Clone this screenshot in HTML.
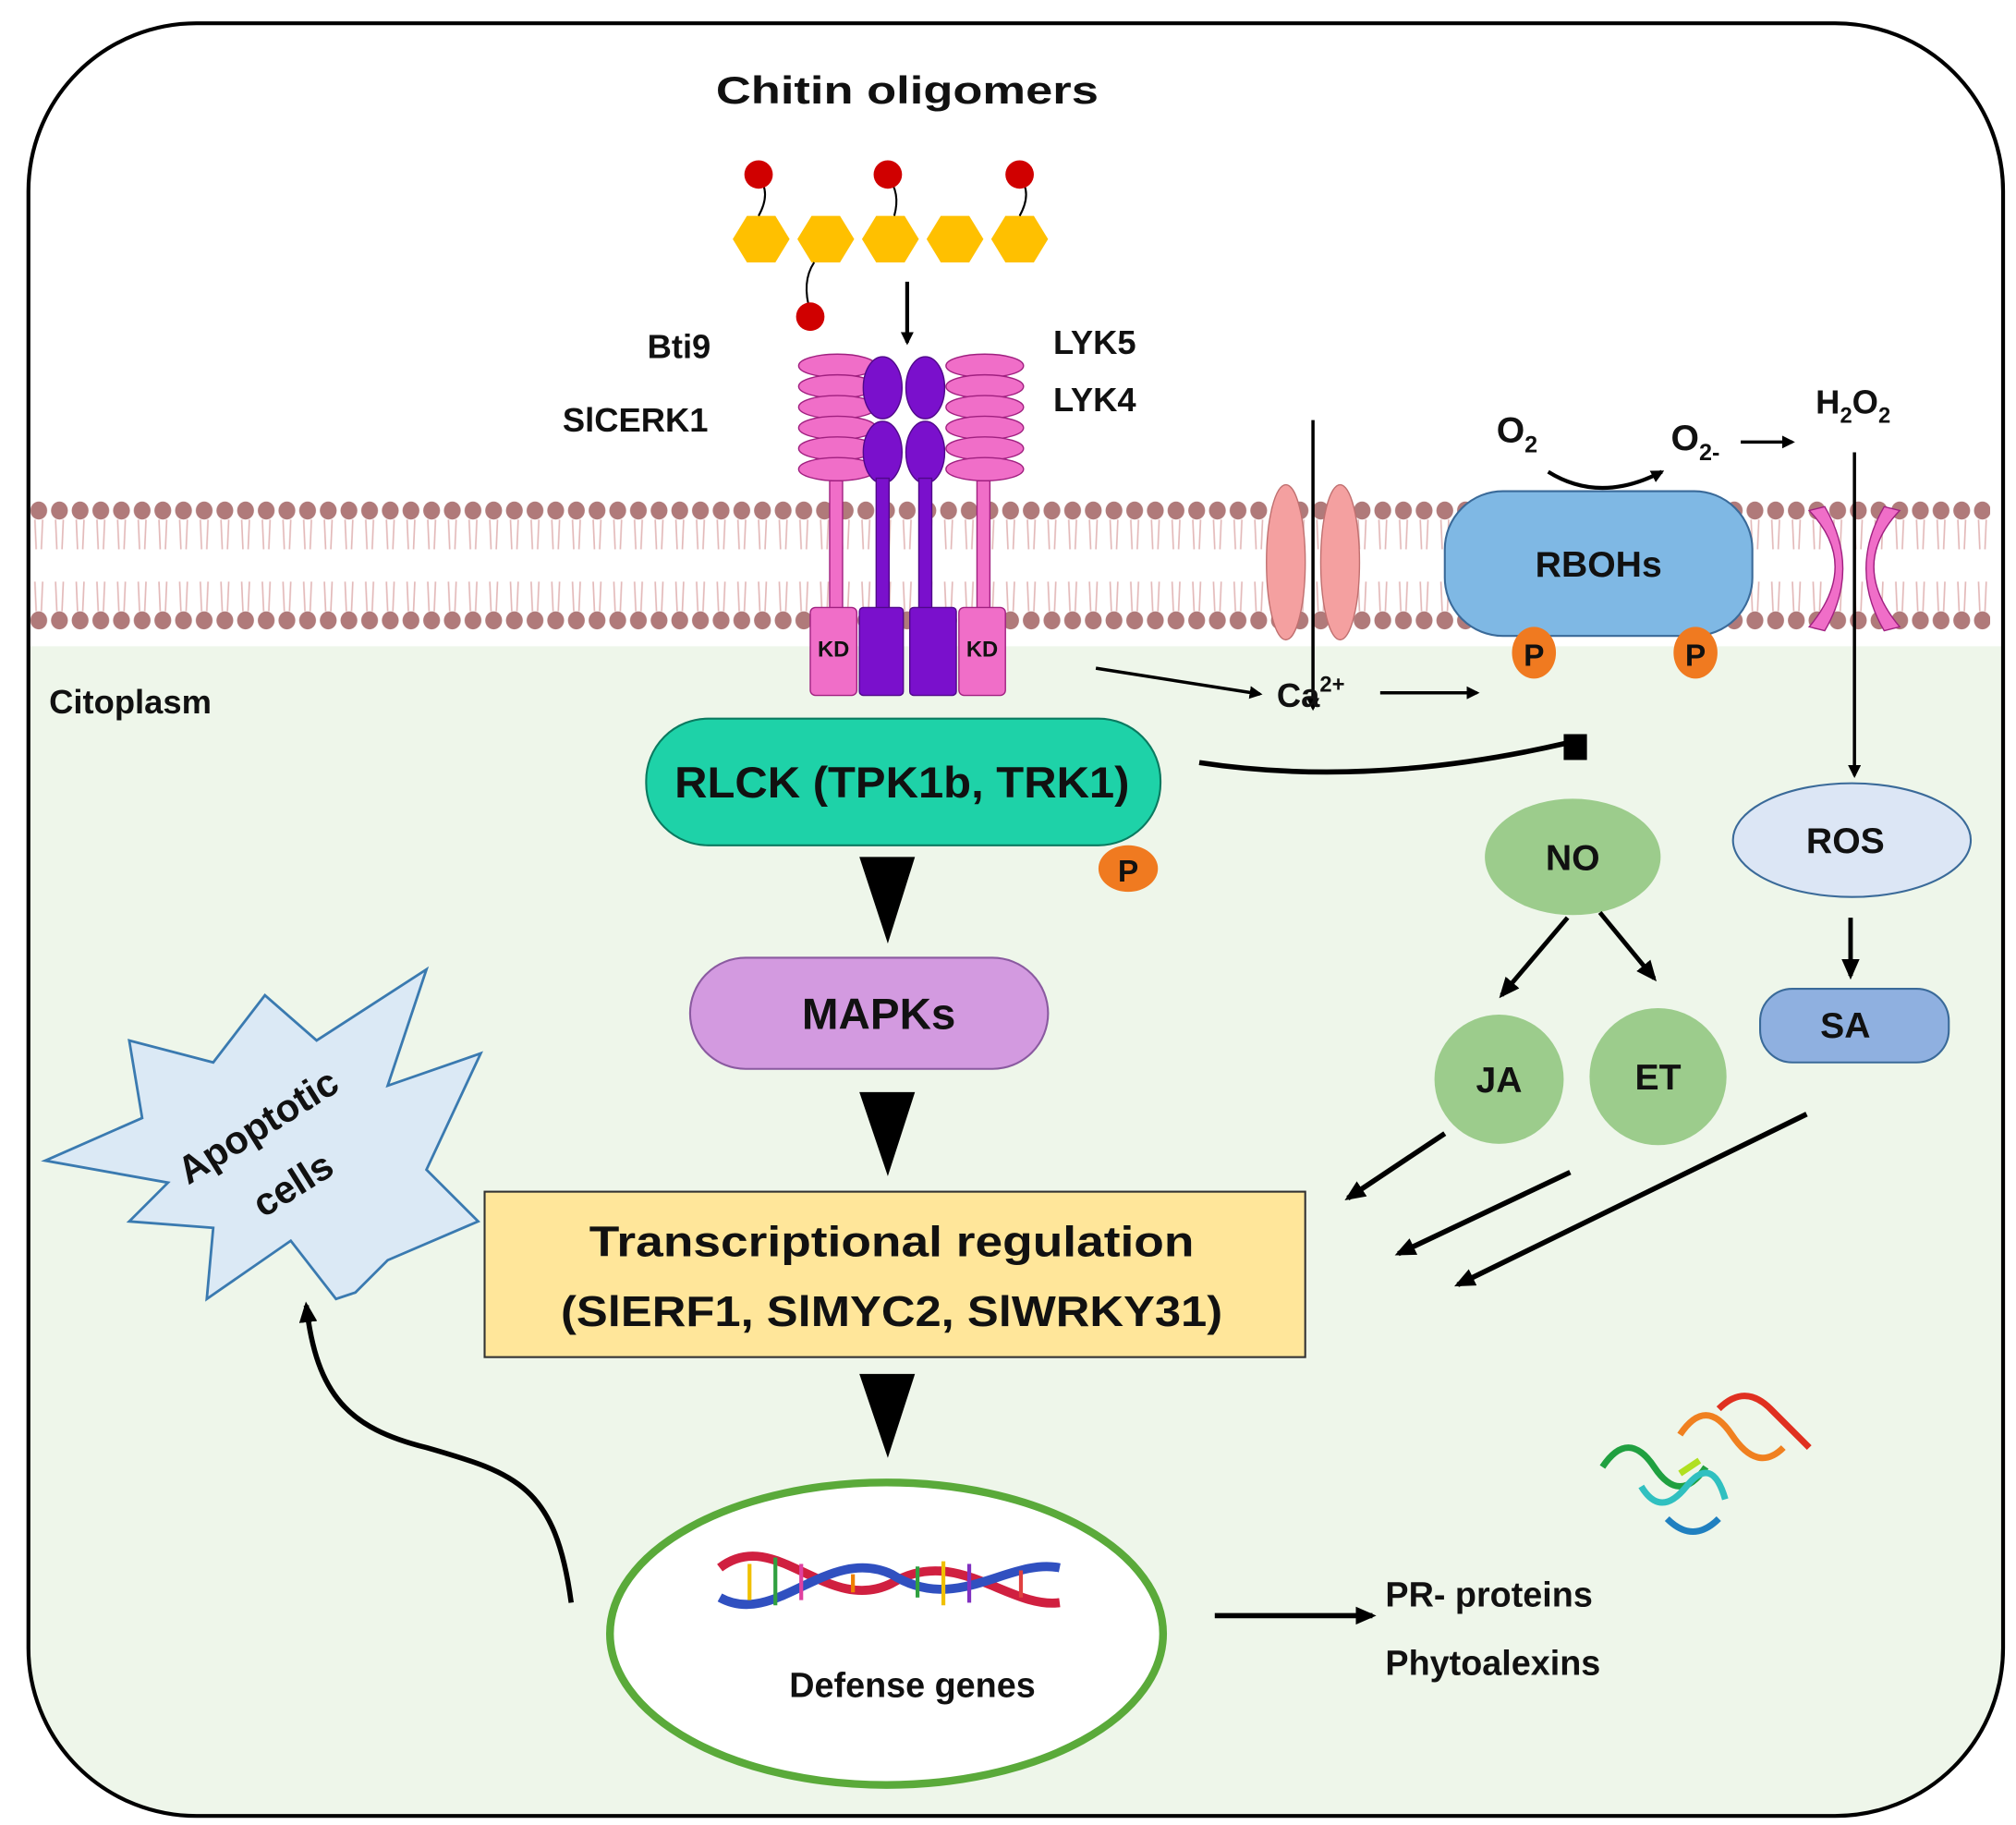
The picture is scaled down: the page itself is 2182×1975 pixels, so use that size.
<!DOCTYPE html>
<html><head><meta charset="utf-8"><style>
html,body{margin:0;padding:0;background:#fff;}
svg{display:block;}
text{font-family:"Liberation Sans","DejaVu Sans",sans-serif;font-weight:bold;fill:#111;}
</style></head><body>
<svg width="2182" height="1975" viewBox="0 0 1560 1412" xmlns="http://www.w3.org/2000/svg">
<defs>
<marker id="ah" markerWidth="10" markerHeight="10" refX="8" refY="5" orient="auto" markerUnits="userSpaceOnUse"><path d="M0,0 L10,5 L0,10 z" fill="#000"/></marker>
<marker id="ahs" markerWidth="16" markerHeight="14" refX="13" refY="7" orient="auto" markerUnits="userSpaceOnUse"><path d="M0,0 L16,7 L0,14 z" fill="#000"/></marker>
<pattern id="bead" x="22" y="0" width="16" height="1412" patternUnits="userSpaceOnUse">
<ellipse cx="8" cy="395" rx="6.5" ry="7" fill="#b07a7a"/>
<path d="M5,402 L6,425 M11,402 L10,425 M5,450 L6,473 M11,450 L10,473" stroke="#e3b9b9" stroke-width="1.2" fill="none"/>
<ellipse cx="8" cy="480" rx="6.5" ry="7" fill="#b07a7a"/>
</pattern>
<clipPath id="cell"><rect x="22" y="18" width="1528" height="1387" rx="130"/></clipPath>
</defs>
<g clip-path="url(#cell)">
<rect x="0" y="0" width="1560" height="1412" fill="#fff"/>
<rect x="0" y="500" width="1560" height="912" fill="#eef6ea"/>
<rect x="22" y="380" width="1518" height="110" fill="url(#bead)"/>
</g>
<rect x="22" y="18" width="1528" height="1387" rx="130" fill="none" stroke="#000" stroke-width="3"/>

<text x="702" y="80" font-size="30" text-anchor="middle" textLength="296" lengthAdjust="spacingAndGlyphs">Chitin oligomers</text>
<g fill="#ffc000">
<polygon points="567,185 578,167 600,167 611,185 600,203 578,203"/>
<polygon points="617,185 628,167 650,167 661,185 650,203 628,203"/>
<polygon points="667,185 678,167 700,167 711,185 700,203 678,203"/>
<polygon points="717,185 728,167 750,167 761,185 750,203 728,203"/>
<polygon points="767,185 778,167 800,167 811,185 800,203 778,203"/>
</g>
<g fill="none" stroke="#000" stroke-width="1.5">
<path d="M587,137 q10,12 0,30"/><path d="M687,137 q10,12 5,30"/><path d="M789,137 q10,12 0,30"/><path d="M630,203 q-10,15 -3,38"/>
</g>
<g fill="#d00000"><circle cx="587" cy="135" r="11"/><circle cx="687" cy="135" r="11"/><circle cx="789" cy="135" r="11"/><circle cx="627" cy="245" r="11"/></g>
<line x1="702" y1="218" x2="702" y2="265" stroke="#000" stroke-width="3" marker-end="url(#ah)"/>

<text x="550" y="277" font-size="26" text-anchor="end">Bti9</text>
<text x="548" y="334" font-size="26" text-anchor="end">SlCERK1</text>
<text x="815" y="274" font-size="26">LYK5</text>
<text x="815" y="318" font-size="26">LYK4</text>

<g fill="#f06ec8" stroke="#a02080" stroke-width="1">
<ellipse cx="648" cy="283" rx="30" ry="9"/><ellipse cx="648" cy="299" rx="30" ry="9"/><ellipse cx="648" cy="315" rx="30" ry="9"/><ellipse cx="648" cy="331" rx="30" ry="9"/><ellipse cx="648" cy="347" rx="30" ry="9"/><ellipse cx="648" cy="363" rx="30" ry="9"/>
<ellipse cx="762" cy="283" rx="30" ry="9"/><ellipse cx="762" cy="299" rx="30" ry="9"/><ellipse cx="762" cy="315" rx="30" ry="9"/><ellipse cx="762" cy="331" rx="30" ry="9"/><ellipse cx="762" cy="347" rx="30" ry="9"/><ellipse cx="762" cy="363" rx="30" ry="9"/>
<rect x="642" y="372" width="10" height="100"/><rect x="756" y="372" width="10" height="100"/>
<rect x="627" y="470" width="36" height="68" rx="4"/><rect x="742" y="470" width="36" height="68" rx="4"/>
</g>
<g fill="#7a10cc" stroke="#50088a" stroke-width="1">
<ellipse cx="683" cy="300" rx="15" ry="24"/><ellipse cx="716" cy="300" rx="15" ry="24"/>
<ellipse cx="683" cy="350" rx="15" ry="24"/><ellipse cx="716" cy="350" rx="15" ry="24"/>
<rect x="678" y="370" width="10" height="105"/><rect x="711" y="370" width="10" height="105"/>
<rect x="665" y="470" width="34" height="68" rx="3"/><rect x="704" y="470" width="36" height="68" rx="3"/>
</g>
<text x="645" y="508" font-size="17" font-weight="normal" text-anchor="middle">KD</text>
<text x="760" y="508" font-size="17" font-weight="normal" text-anchor="middle">KD</text>

<ellipse cx="995" cy="435" rx="15" ry="60" fill="#f4a0a0" stroke="#c07070"/>
<ellipse cx="1037" cy="435" rx="15" ry="60" fill="#f4a0a0" stroke="#c07070"/>
<line x1="1016" y1="325" x2="1016" y2="548" stroke="#000" stroke-width="2.5" marker-end="url(#ah)"/>

<rect x="1118" y="380" width="238" height="112" rx="45" fill="#7fb8e4" stroke="#3a6a99" stroke-width="1.5"/>
<text x="1237" y="446" font-size="28" text-anchor="middle">RBOHs</text>
<ellipse cx="1187" cy="505" rx="17" ry="20" fill="#f07a20"/><text x="1187" y="515" font-size="24" font-weight="normal" text-anchor="middle">P</text>
<ellipse cx="1312" cy="505" rx="17" ry="20" fill="#f07a20"/><text x="1312" y="515" font-size="24" font-weight="normal" text-anchor="middle">P</text>
<text x="1158" y="342" font-size="28">O<tspan font-size="18" dy="8">2</tspan></text>
<path d="M1198,365 q40,25 88,0" fill="none" stroke="#000" stroke-width="3" marker-end="url(#ah)"/>
<text x="1293" y="348" font-size="28">O<tspan font-size="18" dy="8">2-</tspan></text>
<line x1="1347" y1="342" x2="1387" y2="342" stroke="#000" stroke-width="2.5" marker-end="url(#ah)"/>
<text x="1405" y="320" font-size="26">H<tspan font-size="17" dy="7">2</tspan><tspan dy="-7">O</tspan><tspan font-size="17" dy="7">2</tspan></text>

<path d="M1400,395 Q1440,437 1400,485 L1412,488 Q1440,440 1412,392 z" fill="#f06ec8" stroke="#a02080"/>
<path d="M1470,395 Q1430,437 1470,485 L1458,488 Q1430,440 1458,392 z" fill="#f06ec8" stroke="#a02080"/>
<line x1="1435" y1="350" x2="1435" y2="600" stroke="#000" stroke-width="2.5" marker-end="url(#ah)"/>

<text x="38" y="552" font-size="26">Citoplasm</text>

<line x1="848" y1="517" x2="975" y2="537" stroke="#000" stroke-width="2.5" marker-end="url(#ah)"/>
<text x="988" y="547" font-size="26">Ca<tspan font-size="17" dy="-12">2+</tspan></text>
<line x1="1068" y1="536" x2="1143" y2="536" stroke="#000" stroke-width="2.5" marker-end="url(#ah)"/>

<rect x="500" y="556" width="398" height="98" rx="48" fill="#1ed2a8" stroke="#0a7a60" stroke-width="1.5"/>
<text x="698" y="617" font-size="34" text-anchor="middle" textLength="352" lengthAdjust="spacingAndGlyphs">RLCK (TPK1b, TRK1)</text>
<ellipse cx="873" cy="672" rx="23" ry="18" fill="#f07a20"/><text x="873" y="682" font-size="24" font-weight="normal" text-anchor="middle">P</text>
<path d="M928,590 Q1060,610 1212,575" fill="none" stroke="#000" stroke-width="4"/>
<rect x="1210" y="568" width="18" height="20" fill="#000"/>

<ellipse cx="1217" cy="663" rx="68" ry="45" fill="#9ccc8c"/>
<text x="1217" y="673" font-size="28" text-anchor="middle">NO</text>
<ellipse cx="1433" cy="650" rx="92" ry="44" fill="#dce6f5" stroke="#3a6a99" stroke-width="1.5"/>
<text x="1428" y="660" font-size="28" text-anchor="middle">ROS</text>
<line x1="1213" y1="710" x2="1162" y2="770" stroke="#000" stroke-width="3.5" marker-end="url(#ahs)"/>
<line x1="1238" y1="706" x2="1280" y2="757" stroke="#000" stroke-width="3.5" marker-end="url(#ahs)"/>
<line x1="1432" y1="710" x2="1432" y2="755" stroke="#000" stroke-width="3.5" marker-end="url(#ahs)"/>
<rect x="1362" y="765" width="146" height="57" rx="25" fill="#8fb0e0" stroke="#3a6a99" stroke-width="1.5"/>
<text x="1428" y="803" font-size="28" text-anchor="middle">SA</text>
<circle cx="1160" cy="835" r="50" fill="#9ccc8c"/><text x="1160" y="845" font-size="28" text-anchor="middle">JA</text>
<circle cx="1283" cy="833" r="53" fill="#9ccc8c"/><text x="1283" y="843" font-size="28" text-anchor="middle">ET</text>
<line x1="1118" y1="877" x2="1043" y2="927" stroke="#000" stroke-width="4" marker-end="url(#ahs)"/>
<line x1="1215" y1="907" x2="1082" y2="970" stroke="#000" stroke-width="4" marker-end="url(#ahs)"/>
<line x1="1398" y1="862" x2="1128" y2="994" stroke="#000" stroke-width="4" marker-end="url(#ahs)"/>

<polygon points="665,663 708,663 687,730" fill="#000"/>
<rect x="534" y="741" width="277" height="86" rx="43" fill="#d39ae0" stroke="#8a5aa0" stroke-width="1.5"/>
<text x="680" y="796" font-size="34" text-anchor="middle">MAPKs</text>
<polygon points="665,845 708,845 687,910" fill="#000"/>
<rect x="375" y="922" width="635" height="128" fill="#ffe69a" stroke="#333" stroke-width="1.5"/>
<text x="690" y="972" font-size="33" text-anchor="middle" textLength="468" lengthAdjust="spacingAndGlyphs">Transcriptional regulation</text>
<text x="690" y="1026" font-size="33" text-anchor="middle" textLength="512" lengthAdjust="spacingAndGlyphs">(SlERF1, SlMYC2, SlWRKY31)</text>
<polygon points="665,1063 708,1063 687,1128" fill="#000"/>

<ellipse cx="686" cy="1264" rx="214" ry="117" fill="#fff" stroke="#5aaa3a" stroke-width="6"/>
<g stroke-width="7" fill="none">
<path d="M557,1213 C600,1180 640,1250 690,1225 C740,1195 780,1245 820,1240" stroke="#d02040"/>
<path d="M557,1236 C600,1260 640,1195 690,1218 C740,1250 780,1205 820,1213" stroke="#3050c0"/>
</g>
<g stroke-width="3">
<line x1="580" y1="1210" x2="580" y2="1238" stroke="#f0c000"/><line x1="600" y1="1205" x2="600" y2="1242" stroke="#30a040"/>
<line x1="620" y1="1210" x2="620" y2="1238" stroke="#e040a0"/><line x1="660" y1="1218" x2="660" y2="1232" stroke="#f08000"/>
<line x1="710" y1="1212" x2="710" y2="1236" stroke="#30a040"/><line x1="730" y1="1208" x2="730" y2="1242" stroke="#f0c000"/>
<line x1="750" y1="1210" x2="750" y2="1240" stroke="#8030c0"/><line x1="790" y1="1215" x2="790" y2="1236" stroke="#e04040"/>
</g>
<text x="706" y="1313" font-size="27" text-anchor="middle">Defense genes</text>
<line x1="940" y1="1250" x2="1062" y2="1250" stroke="#000" stroke-width="4" marker-end="url(#ahs)"/>
<text x="1072" y="1243" font-size="27">PR- proteins</text>
<text x="1072" y="1296" font-size="27">Phytoalexins</text>

<g fill="none" stroke-width="5">
<path d="M1240,1135 q20,-30 40,0 t40,0" stroke="#20a040"/>
<path d="M1270,1150 q15,25 35,0 t30,10" stroke="#30c0c0"/>
<path d="M1300,1110 q20,-30 40,0 t40,10" stroke="#f08020"/>
<path d="M1330,1090 q20,-20 40,0 t30,30" stroke="#e03020"/>
<path d="M1290,1175 q20,20 40,0" stroke="#2080c0"/>
<path d="M1300,1140 l15,-10" stroke="#b0e020"/>
</g>

<polygon points="35,898 110,865 100,805 165,822 205,770 245,805 330,750 300,840 372,815 330,905 370,945 300,975 275,1000 260,1005 225,960 160,1005 165,950 100,945 130,915" fill="#dbe9f5" stroke="#3a7ab0" stroke-width="2"/>
<text x="205" y="880" font-size="30" text-anchor="middle" transform="rotate(-32 205 880)">Apoptotic</text>
<text x="232" y="925" font-size="30" text-anchor="middle" transform="rotate(-32 232 925)">cells</text>
<path d="M442,1240 C430,1150 400,1140 330,1120 C270,1105 245,1080 237,1010" fill="none" stroke="#000" stroke-width="4" marker-end="url(#ahs)"/>
</svg>
</body></html>
